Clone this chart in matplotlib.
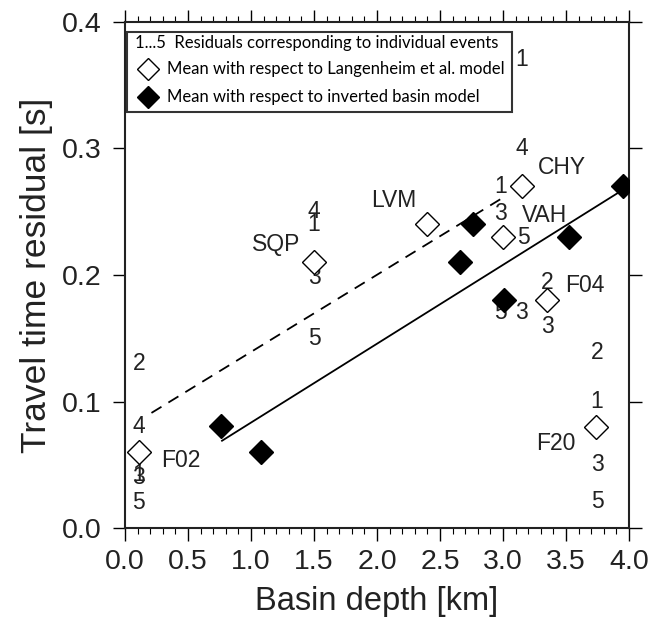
import matplotlib
matplotlib.use("Agg")
import matplotlib.pyplot as plt
from matplotlib.patches import Rectangle
from matplotlib.ticker import MultipleLocator

# ---------------- data ----------------
stations = ['F02', 'SQP', 'LVM', 'VAH', 'CHY', 'F04', 'F20']
depth_lang = [0.11, 1.50, 2.40, 3.00, 3.15, 3.35, 3.74]
mean_lang = [0.060, 0.210, 0.240, 0.230, 0.270, 0.180, 0.080]

depth_inv = [0.76, 1.08, 2.66, 2.76, 3.01, 3.52, 3.95]
mean_inv = [0.081, 0.060, 0.210, 0.240, 0.180, 0.230, 0.270]

# station label positions
label_x = [0.44, 1.20, 2.13, 3.33, 3.47, 3.65, 3.42]
label_y = [0.053, 0.224, 0.259, 0.247, 0.285, 0.192, 0.067]

# individual event residuals (event number, depth, residual)
event_id = ['2', '4', '3', '1', '5',
            '4', '1', '3', '5',
            '1', '4', '1', '3', '5',
            '2', '5', '3', '3',
            '2', '1', '3', '5']
event_x = [0.11, 0.11, 0.11, 0.11, 0.11,
           1.50, 1.50, 1.50, 1.50,
           3.15, 3.15, 2.98, 2.98, 3.16,
           3.35, 2.98, 3.15, 3.35,
           3.75, 3.74, 3.75, 3.75]
event_y = [0.130, 0.080, 0.040, 0.042, 0.020,
           0.250, 0.240, 0.198, 0.150,
           0.370, 0.300, 0.270, 0.249, 0.230,
           0.194, 0.170, 0.170, 0.159,
           0.139, 0.100, 0.050, 0.021]

# regression lines
dashed_x = [0.21, 3.03]
dashed_y = [0.091, 0.263]
solid_x = [0.77, 3.93]
solid_y = [0.069, 0.266]

xticks = [0.0, 0.5, 1.0, 1.5, 2.0, 2.5, 3.0, 3.5, 4.0]
yticks = [0.0, 0.1, 0.2, 0.3, 0.4]

legend_labels = ['1...5  Residuals corresponding to individual events',
                 'Mean with respect to Langenheim et al. model',
                 'Mean with respect to inverted basin model']

# ---------------- plot ----------------
font = 'Liberation Sans'
fig = plt.figure(figsize=(6.49, 6.26), dpi=100)
ax = fig.add_axes([0.1926, 0.1565, 0.7766, 0.8084])

ax.set_xlim(0, 4)
ax.set_ylim(0, 0.4)

ax.plot(dashed_x, dashed_y, color='black', lw=1.3, dashes=[6.5, 4.5])
ax.plot(solid_x, solid_y, color='black', lw=1.3)

for t, x, y in zip(event_id, event_x, event_y):
    ax.text(x, y, t, ha='center', va='center', fontsize=16.5, family=font,
            color='#222222', zorder=2)

ax.plot(depth_lang, mean_lang, ls='', marker='D', ms=12.5, mfc='white',
        mec='black', mew=1.0, zorder=3)
ax.plot(depth_inv, mean_inv, ls='', marker='D', ms=12.5, mfc='black',
        mec='black', mew=1.0, zorder=3)

for s, x, y in zip(stations, label_x, label_y):
    ax.text(x, y, s, ha='center', va='center', fontsize=16.5, family=font,
            color='#222222', zorder=4)

# legend box
tr = ax.transAxes
ax.add_patch(Rectangle((0.004, 0.822), 0.764, 0.158, transform=tr,
                       facecolor='white', edgecolor='#333333', lw=1.5, zorder=5))
ax.text(0.020, 0.958, legend_labels[0], transform=tr, ha='left', va='center',
        fontsize=12, family='Lato', zorder=6)
ax.plot([0.046], [0.907], transform=tr, ls='', marker='D', ms=11, mfc='white',
        mec='black', mew=1.0, zorder=6)
ax.text(0.083, 0.907, legend_labels[1], transform=tr, ha='left', va='center',
        fontsize=12, family='Lato', zorder=6)
ax.plot([0.046], [0.852], transform=tr, ls='', marker='D', ms=11, mfc='black',
        mec='black', mew=1.0, zorder=6)
ax.text(0.083, 0.852, legend_labels[2], transform=tr, ha='left', va='center',
        fontsize=12, family='Lato', zorder=6)

# axes styling
for sp in ax.spines.values():
    sp.set_linewidth(1.5)
    sp.set_color('#222222')

ax.set_xticks(xticks)
ax.set_yticks(yticks)
ax.set_xticklabels([f'{v:.1f}' for v in xticks])
ax.set_yticklabels([f'{v:.1f}' for v in yticks])
ax.xaxis.set_minor_locator(MultipleLocator(0.1))
ax.tick_params(axis='x', which='major', direction='out', length=9, width=1.0,
               top=True, bottom=True, pad=6, labelsize=20.5)
ax.tick_params(axis='x', which='minor', direction='out', length=4.5, width=0.8,
               top=True, bottom=True)
ax.tick_params(axis='y', which='major', direction='out', length=9, width=1.0,
               left=True, right=True, pad=8, labelsize=20.5)
for lab in ax.get_xticklabels() + ax.get_yticklabels():
    lab.set_family(font)
    lab.set_color('#222222')

ax.set_xlabel('Basin depth [km]', fontsize=23.5, family=font, color='#222222',
              labelpad=8)
ax.set_ylabel('Travel time residual [s]', fontsize=25.5, family=font,
              color='#222222', labelpad=6)

fig.savefig('out.png', dpi=100)
